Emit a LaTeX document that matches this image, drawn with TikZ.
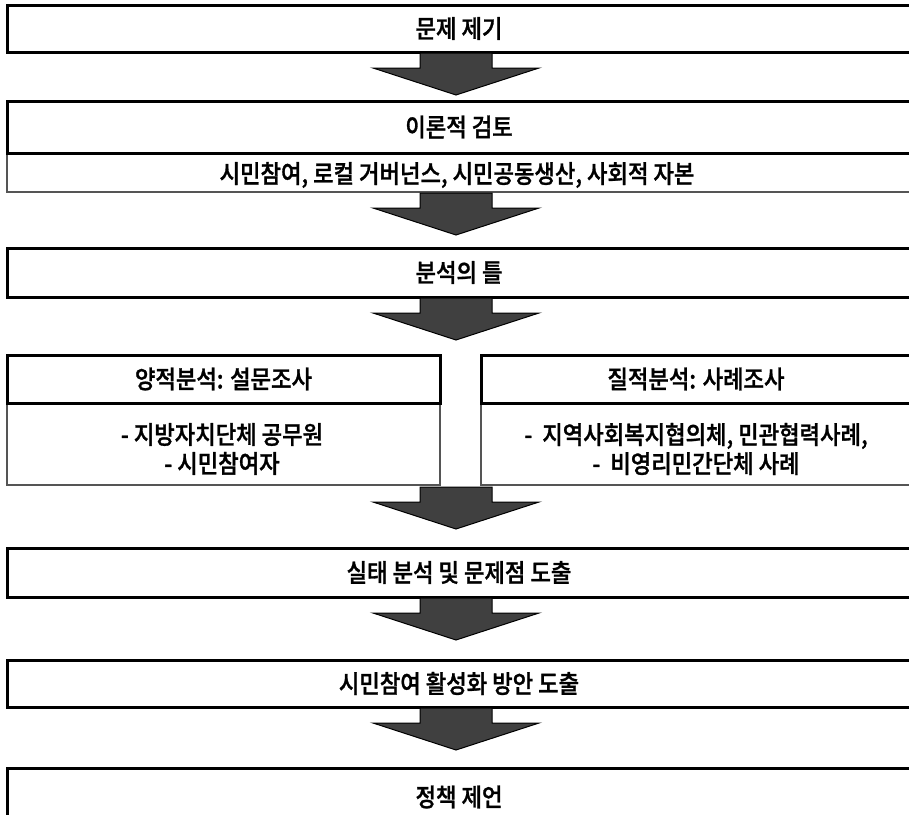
\documentclass[tikz,border=0pt]{standalone}
\usepackage{fontspec}
\newfontfamily\kr[FakeStretch=0.89, FakeBold=1.2]{Noto Sans CJK KR Medium}
\definecolor{arrowgray}{HTML}{404040}
\definecolor{subline}{HTML}{555555}
\begin{document}
\begin{tikzpicture}[x=1pt,y=-1pt,
  txt/.style={font=\kr\fontsize{25}{29}\selectfont, align=center},
  mainbox/.style={txt, draw=black, line width=3pt, fill=white, inner sep=0pt, outer sep=0pt},
  subbox/.style={draw=subline, line width=1.3pt, fill=white, inner sep=0pt, outer sep=0pt},
  barrow/.pic={\draw[fill=arrowgray, draw=black, line width=1pt, line join=miter]
     (-36,0) -- (-36,15) -- (-83,15) -- (0,42) -- (83,15) -- (36,15) -- (36,0) -- cycle;}
]
\useasboundingbox (0,0) rectangle (909,814);

% box 1
\node[mainbox, minimum width=904pt, minimum height=47pt] (b1) at (459,28.5) {문제 제기};
% box 2 and its sub box
\node[subbox, minimum width=904pt, minimum height=39pt] (s2) at (459,172.5) {};
\node[txt] (s2t) at (457,175) {시민참여, 로컬 거버넌스, 시민공동생산, 사회적 자본};
\node[mainbox, minimum width=904pt, minimum height=52pt] (b2) at (459,127) {이론적 검토};
% box 3
\node[mainbox, minimum width=904pt, minimum height=49pt] (b3) at (459,272.5) {분석의 틀};
% left / right
\node[subbox, minimum width=433pt, minimum height=82pt] (ls) at (223.5,444) {};
\node[txt] (lst) at (222,449) {- 지방자치단체 공무원\\- 시민참여자};
\node[mainbox, minimum width=433pt, minimum height=48pt] (lh) at (223.5,379) {양적분석: 설문조사};
\node[subbox, minimum width=430pt, minimum height=82pt] (rs) at (696,444) {};
\node[txt] (rst) at (696,449) {-\ \ 지역사회복지협의체, 민관협력사례,\\-\ \ 비영리민간단체 사례};
\node[mainbox, minimum width=430pt, minimum height=48pt] (rh) at (696,379) {질적분석: 사례조사};
\coordinate (mid) at (456,487);
% box 4,5,6
\node[mainbox, minimum width=904pt, minimum height=49pt] (b4) at (459,572.5) {실태 분석 및 문제점 도출};
\node[mainbox, minimum width=904pt, minimum height=47pt] (b5) at (459,683.5) {시민참여 활성화 방안 도출};
\node[mainbox, minimum width=904pt, minimum height=58pt] (b6) at (459,797) {정책 제언};

% arrows
\pic at ([xshift=-3pt,yshift=-1pt]b1.south) {barrow};
\pic at ([xshift=-3pt,yshift=-1pt]s2.south) {barrow};
\pic at ([xshift=-3pt,yshift=-1pt]b3.south) {barrow};
\pic at (mid) {barrow};
\pic at ([xshift=-3pt,yshift=-1pt]b4.south) {barrow};
\pic at ([xshift=-3pt,yshift=-1pt]b5.south) {barrow};
\end{tikzpicture}
\end{document}
